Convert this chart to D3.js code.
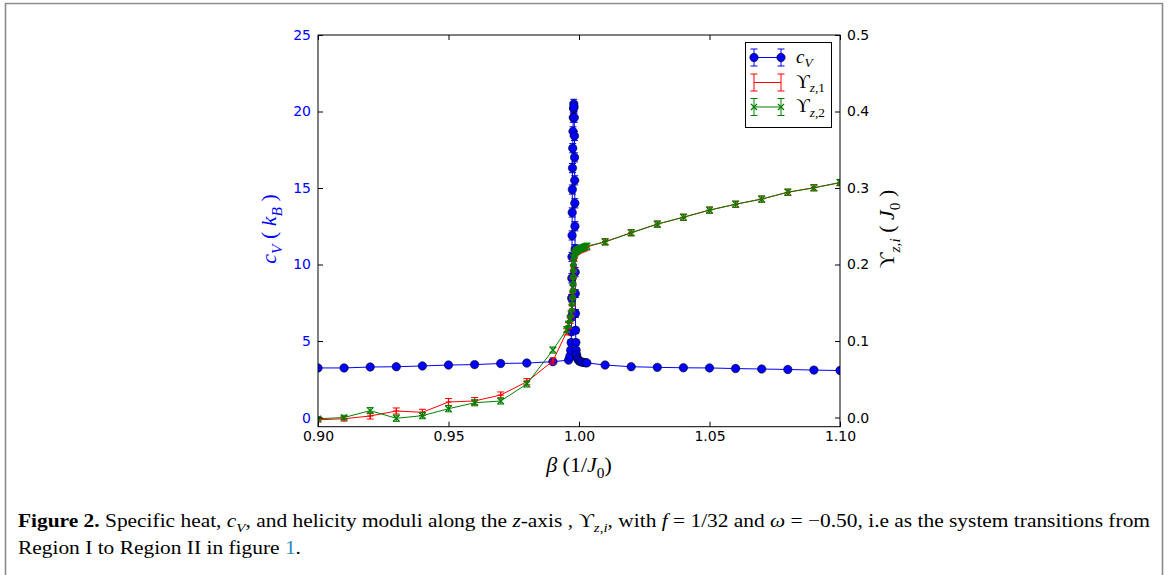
<!DOCTYPE html>
<html><head><meta charset="utf-8">
<script src="https://cdn.jsdelivr.net/npm/d3@7"></script>
<style>body{margin:0;background:#fff}svg{display:block}</style>
</head><body><svg id="c" width="1168" height="575"></svg>
<script>
// ---------------- data ----------------
const betaCv = [0.90,0.91,0.92,0.93,0.94,0.95,0.96,0.97,0.98,0.99,
  0.9960,0.9965,0.9968,0.9970,0.9971,0.99715,0.9972,0.99725,0.9973,0.99735,0.9974,0.99745,0.9975,
  0.9976,0.9977,0.9978,0.9979,0.9980,0.9981,0.9982,0.99825,0.9983,0.99835,0.9984,0.99845,0.9985,
  0.99855,0.9986,0.99865,0.9987,0.9988,0.9989,0.9991,0.9993,0.9996,1.0000,1.0005,1.0010,1.0018,1.0026,1.0030,
  1.01,1.02,1.03,1.04,1.05,1.06,1.07,1.08,1.09,1.10];
const cv = [3.24,3.24,3.30,3.32,3.37,3.43,3.46,3.53,3.56,3.65,
  3.75,4.0,4.4,4.9,5.6,6.6,7.8,9.1,10.5,11.9,13.4,14.9,16.3,
  17.6,18.7,19.6,20.2,20.5,20.3,19.6,18.4,17.0,15.5,14.0,12.5,11.0,
  9.5,8.1,6.8,5.7,4.9,4.4,4.1,3.9,3.8,3.7,3.66,3.62,3.6,3.58,3.57,
  3.43,3.32,3.28,3.25,3.24,3.2,3.17,3.14,3.1,3.07];
const cvErr = [0.05,0.05,0.05,0.05,0.05,0.05,0.05,0.05,0.06,0.08,
  0.1,0.12,0.15,0.2,0.2,0.25,0.25,0.3,0.3,0.3,0.3,0.3,0.3,
  0.3,0.3,0.3,0.3,0.3,0.3,0.3,0.3,0.3,0.3,0.3,0.3,0.3,
  0.3,0.25,0.25,0.2,0.2,0.15,0.12,0.1,0.1,0.08,0.08,0.07,0.07,0.06,0.06,
  0.05,0.05,0.05,0.05,0.05,0.05,0.05,0.05,0.05,0.05];

const betaU = [0.90,0.91,0.92,0.93,0.94,0.95,0.96,0.97,0.98,0.99,
  0.9953,0.9960,0.9966,0.9970,0.9973,0.9975,0.9976,0.9977,0.99775,0.9978,0.99785,0.9979,0.9980,
  0.9982,0.9985,0.9990,0.9995,1.0000,1.0008,1.0015,1.0022,1.0030,
  1.01,1.02,1.03,1.04,1.05,1.06,1.07,1.08,1.09,1.10];
const u1 = [-0.003,-0.0016,0.002,0.0085,0.0068,0.0203,0.0216,0.0294,0.0468,0.0739,
  0.112,0.120,0.127,0.134,0.142,0.150,0.159,0.168,0.177,0.186,0.194,0.201,0.208,
  0.212,0.215,0.217,0.218,0.219,0.220,0.221,0.222,0.223,
  0.2298,0.2416,0.2529,0.2617,0.2712,0.2787,0.2856,0.2944,0.3004,0.3069];
const u1Err = [0.003,0.003,0.004,0.004,0.004,0.0045,0.0045,0.004,0.004,0.004,
  0.004,0.004,0.004,0.004,0.004,0.004,0.004,0.004,0.004,0.004,0.004,0.004,0.004,
  0.004,0.004,0.004,0.004,0.004,0.004,0.004,0.004,0.004,
  0.004,0.004,0.004,0.004,0.004,0.004,0.004,0.004,0.004,0.004];
const u2 = [-0.0016,0.0,0.009,-0.001,0.0024,0.0115,0.0193,0.0216,0.0438,0.0882,
  0.115,0.122,0.129,0.136,0.144,0.152,0.161,0.170,0.179,0.188,0.196,0.203,0.209,
  0.213,0.216,0.218,0.219,0.220,0.221,0.222,0.223,0.224,
  0.2295,0.2414,0.2527,0.2619,0.2710,0.2789,0.2855,0.2946,0.3002,0.3072];
const u2Err = [0.003,0.003,0.004,0.004,0.004,0.004,0.004,0.004,0.004,0.004,
  0.004,0.004,0.004,0.004,0.004,0.004,0.004,0.004,0.004,0.004,0.004,0.004,0.004,
  0.004,0.004,0.004,0.004,0.004,0.004,0.004,0.004,0.004,
  0.004,0.004,0.004,0.004,0.004,0.004,0.004,0.004,0.004,0.004];

const xTicks = [0.90,0.95,1.00,1.05,1.10];
const yLTicks = [0,5,10,15,20,25];
const yRTicks = [0.0,0.1,0.2,0.3,0.4,0.5];

// ---------------- setup ----------------
const svg = d3.select("#c");
svg.append("rect").attr("width",1168).attr("height",575).attr("fill","#fff");
svg.append("path").attr("d","M5.5,580V3.5H1162.5V580").attr("fill","none")
  .attr("stroke","#8c8c8c").attr("stroke-width",1.6);

const L=318, R=840, T=35, B=426.7;
const x = d3.scaleLinear().domain([0.9,1.1]).range([L,R]);
const yL = d3.scaleLinear().domain([-0.6,25]).range([B,T]);
const yR = d3.scaleLinear().domain([-0.012,0.5]).range([B,T]);

const BLUE="#0000ff", RED="#ff0000", GREEN="#008000";
const SANS="DejaVu Sans", SERIF="'Liberation Serif','DejaVu Serif',serif";

svg.append("clipPath").attr("id","clip").append("rect")
  .attr("x",L).attr("y",T).attr("width",R-L).attr("height",B-T);
const plot = svg.append("g").attr("clip-path","url(#clip)");

function errbars(g, xs, ys, es, ysc, color, cap){
  const idx = d3.range(xs.length);
  g.selectAll(null).data(idx).join("line")
    .attr("x1",i=>x(xs[i])).attr("x2",i=>x(xs[i]))
    .attr("y1",i=>ysc(ys[i]-es[i])).attr("y2",i=>ysc(ys[i]+es[i]))
    .attr("stroke",color).attr("stroke-width",1);
  [-1,1].forEach(s=>{
    g.selectAll(null).data(idx).join("line")
      .attr("x1",i=>x(xs[i])-cap).attr("x2",i=>x(xs[i])+cap)
      .attr("y1",i=>ysc(ys[i]+s*es[i])).attr("y2",i=>ysc(ys[i]+s*es[i]))
      .attr("stroke",color).attr("stroke-width",1);
  });
}
function series(g, xs, ys, ysc, color){
  const idx=d3.range(xs.length);
  g.append("path").datum(idx)
    .attr("d", d3.line().x(i=>x(xs[i])).y(i=>ysc(ys[i])))
    .attr("fill","none").attr("stroke",color).attr("stroke-width",1);
}

// c_V
const gCv = plot.append("g");
series(gCv, betaCv, cv, yL, BLUE);
errbars(gCv, betaCv, cv, cvErr, yL, BLUE, 3.5);
gCv.selectAll("circle").data(d3.range(betaCv.length)).join("circle")
  .attr("cx",i=>x(betaCv[i])).attr("cy",i=>yL(cv[i])).attr("r",4.2)
  .attr("fill",BLUE).attr("stroke","#000").attr("stroke-width",0.6);

// Upsilon z,1
const gU1 = plot.append("g");
series(gU1, betaU, u1, yR, RED);
errbars(gU1, betaU, u1, u1Err, yR, RED, 3.5);
gU1.selectAll("path.m").data(d3.range(betaU.length)).join("path").attr("class","m")
  .attr("d",i=>{const cx=x(betaU[i]), cy=yR(u1[i]); return `M${cx-3},${cy}H${cx+3}M${cx},${cy-3}V${cy+3}`;})
  .attr("stroke",RED).attr("stroke-width",1.2).attr("fill","none");

// Upsilon z,2
const gU2 = plot.append("g");
series(gU2, betaU, u2, yR, GREEN);
errbars(gU2, betaU, u2, u2Err, yR, GREEN, 3.5);
gU2.selectAll("path.m").data(d3.range(betaU.length)).join("path").attr("class","m")
  .attr("d",i=>{const cx=x(betaU[i]), cy=yR(u2[i]); return `M${cx-3},${cy-3}L${cx+3},${cy+3}M${cx-3},${cy+3}L${cx+3},${cy-3}`;})
  .attr("stroke",GREEN).attr("stroke-width",1.3).attr("fill","none");

// ---------------- axes ----------------
function styleAxis(g, color){
  g.select(".domain").remove();
  g.selectAll(".tick line").attr("stroke","#000").attr("stroke-width",1);
  g.selectAll(".tick text").attr("fill",color).attr("font-family",SANS).attr("font-size",14);
}
svg.append("g").attr("transform",`translate(0,${B})`)
  .call(d3.axisBottom(x).tickValues(xTicks).tickFormat(d3.format(".2f")).tickSizeInner(-5).tickSizeOuter(0).tickPadding(4))
  .call(g=>styleAxis(g,"#000"));
svg.append("g").attr("transform",`translate(0,${T})`)
  .call(d3.axisTop(x).tickValues(xTicks).tickFormat("").tickSizeInner(-5).tickSizeOuter(0))
  .call(g=>styleAxis(g,"#000"));
svg.append("g").attr("transform",`translate(${L},0)`)
  .call(d3.axisLeft(yL).tickValues(yLTicks).tickFormat(d3.format("d")).tickSizeInner(-5).tickSizeOuter(0).tickPadding(7))
  .call(g=>styleAxis(g,BLUE));
svg.append("g").attr("transform",`translate(${R},0)`)
  .call(d3.axisRight(yR).tickValues(yRTicks).tickFormat(d3.format(".1f")).tickSizeInner(-5).tickSizeOuter(0).tickPadding(7))
  .call(g=>styleAxis(g,"#000"));
svg.append("rect").attr("x",L).attr("y",T).attr("width",R-L).attr("height",B-T)
  .attr("fill","none").attr("stroke","#000").attr("stroke-width",1);

// ---------------- math text helper ----------------
function mathText(sel, parts, size){
  let inSub=false;
  parts.forEach(([t,s])=>{
    const sub = s[0]==='s';
    const ital = s[s.length-1]==='i';
    const ts = sel.append("tspan").text(t).attr("font-style", ital?"italic":"normal");
    if(s.indexOf('b')>=0) ts.attr("font-weight","bold");
    if(sub){ ts.attr("font-size", size*0.7); if(!inSub) ts.attr("dy", size*0.25); }
    else { ts.attr("font-size", size); if(inSub) ts.attr("dy", -size*0.25); }
    inSub = sub;
  });
  return sel;
}

// axis labels
mathText(svg.append("text").attr("x",579).attr("y",472).attr("text-anchor","middle")
  .attr("font-family",SERIF).attr("fill","#000"),
  [["β","i"],[" (1/","r"],["J","i"],["0","sr"],[")","r"]], 22);
mathText(svg.append("text").attr("transform","translate(276,229) rotate(-90)").attr("text-anchor","middle")
  .attr("font-family",SERIF).attr("fill",BLUE),
  [["c","i"],["V","si"],["  ( ","r"],["k","i"],["B","si"],[" )","r"]], 22);
mathText(svg.append("text").attr("transform","translate(894,229) rotate(-90)").attr("text-anchor","middle")
  .attr("font-family",SERIF).attr("fill","#000"),
  [["ϒ","r"],["z","si"],[",","sr"],["i","si"],["  ( ","r"],["J","i"],["0","sr"],[" )","r"]], 22);

// ---------------- legend ----------------
const lg = svg.append("g");
lg.append("rect").attr("x",745.5).attr("y",42.5).attr("width",86).attr("height",85)
  .attr("fill","#fff").attr("stroke","#000").attr("stroke-width",1);
const legItems = [
  {y:57.5, c:BLUE, m:"o", parts:[["c","i"],["V","si"]]},
  {y:82.5, c:RED, m:"+", parts:[["ϒ","r"],["z","si"],[",1","sr"]]},
  {y:107, c:GREEN, m:"x", parts:[["ϒ","r"],["z","si"],[",2","sr"]]}
];
legItems.forEach(it=>{
  const x0=754, x1=781;
  lg.append("line").attr("x1",x0).attr("x2",x1).attr("y1",it.y).attr("y2",it.y).attr("stroke",it.c).attr("stroke-width",1);
  [x0,x1].forEach(xx=>{
    lg.append("line").attr("x1",xx).attr("x2",xx).attr("y1",it.y-8.5).attr("y2",it.y+8.5).attr("stroke",it.c).attr("stroke-width",1);
    [-8.5,8.5].forEach(d=>lg.append("line").attr("x1",xx-3.5).attr("x2",xx+3.5).attr("y1",it.y+d).attr("y2",it.y+d).attr("stroke",it.c).attr("stroke-width",1));
    if(it.m==="o") lg.append("circle").attr("cx",xx).attr("cy",it.y).attr("r",4.2).attr("fill",BLUE).attr("stroke","#000").attr("stroke-width",0.6);
    if(it.m==="x") lg.append("path").attr("d",`M${xx-3},${it.y-3}L${xx+3},${it.y+3}M${xx-3},${it.y+3}L${xx+3},${it.y-3}`).attr("stroke",GREEN).attr("stroke-width",1.3);
  });
  mathText(lg.append("text").attr("x",796).attr("y",it.y+5).attr("font-family",SERIF).attr("fill","#000"), it.parts, 19);
});

// ---------------- caption ----------------
const capSize = 18.5;
const c1 = svg.append("text").attr("x",18).attr("y",527).attr("font-family",SERIF).attr("fill","#000");
mathText(c1, [["Figure 2.","rb"],[" Specific heat, ","r"],["c","i"],["V","si"],[", and helicity moduli along the ","r"],
  ["z","i"],["-axis , ","r"],["ϒ","r"],["z","si"],[",","sr"],["i","si"],[", with ","r"],["f","i"],[" = 1/32 and ","r"],
  ["ω","i"],[" = −0.50, i.e as the system transitions from","r"]], capSize);
const n1 = c1.node().getComputedTextLength();
const ratio = 1132 / n1;
c1.attr("textLength",1132).attr("lengthAdjust","spacingAndGlyphs");
const c2 = svg.append("text").attr("x",18).attr("y",554).attr("font-family",SERIF).attr("fill","#000");
c2.append("tspan").text("Region I to Region II in figure ").attr("font-size",capSize);
c2.append("tspan").text("1").attr("font-size",capSize).attr("fill","#2b8cbe");
c2.append("tspan").text(".").attr("font-size",capSize);
const n2 = c2.node().getComputedTextLength();
c2.attr("textLength",n2*ratio).attr("lengthAdjust","spacingAndGlyphs");
</script>
</body></html>
